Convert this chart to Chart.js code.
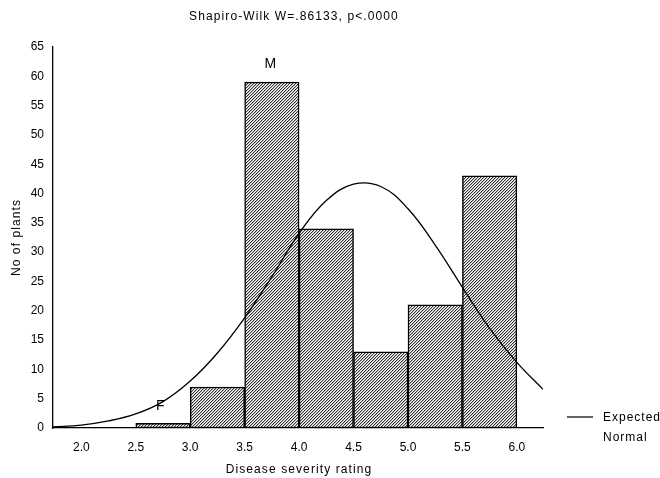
<!DOCTYPE html>
<html>
<head>
<meta charset="utf-8">
<script src="https://cdn.jsdelivr.net/npm/chart.js@4.4.1/dist/chart.umd.min.js"></script>
<style>
  html, body { margin: 0; padding: 0; background: #fff; }
  #wrap { width: 660px; height: 478px; }
</style>
</head>
<body>
<div id="wrap"><canvas id="chart" width="660" height="478"></canvas></div>
<script>
// histogram bins (centres of 0.5-wide classes) and counts
const binCenters = [2.75, 3.25, 3.75, 4.25, 4.75, 5.25, 5.75];
const plantCounts = [0.8, 7, 59, 34, 13, 21, 43];

// expected normal curve
const curveX = [1.74, 2.0, 2.25, 2.5, 2.75, 3.0, 3.25, 3.5, 3.75, 4.0, 4.25, 4.5, 4.75, 5.0, 5.25, 5.5, 5.75, 6.0, 6.24];
const curveY = [0.2, 0.5, 1.2, 2.4, 4.5, 8.0, 12.8, 18.8, 25.8, 33.2, 38.8, 41.6, 41.2, 37.4, 31.2, 24.0, 17.0, 11.2, 6.6];

const xTicks = [2.0, 2.5, 3.0, 3.5, 4.0, 4.5, 5.0, 5.5, 6.0];
const yTicks = [0, 5, 10, 15, 20, 25, 30, 35, 40, 45, 50, 55, 60, 65];

const FONT = '"Liberation Sans", Arial, sans-serif';

function hatch(ctx) {
  const c = document.createElement('canvas');
  c.width = 3; c.height = 3;
  const g = c.getContext('2d');
  g.fillStyle = '#fff';
  g.fillRect(0, 0, 3, 3);
  for (let x = 0; x < 3; x++) {
    for (let y = 0; y < 3; y++) {
      const k = (x + y) % 3;
      if (k === 0) { g.fillStyle = '#333'; g.fillRect(x, y, 1, 1); }
      if (k === 1) { g.fillStyle = '#b8b8b8'; g.fillRect(x, y, 1, 1); }
    }
  }
  return ctx.createPattern(c, 'repeat');
}

const canvas = document.getElementById('chart');
const ctx = canvas.getContext('2d');

// ===== texts drawn on top =====
const textPlugin = {
  id: 'texts',
  afterDraw(chart) {
    const c = chart.ctx;
    const xs = chart.scales.x;
    const ys = chart.scales.y;
    c.save();
    c.fillStyle = '#000';
    c.font = '12px ' + FONT;
    c.letterSpacing = '1.1px';
    c.textBaseline = 'middle';
    c.textAlign = 'center';

    c.fillText('Shapiro-Wilk W=.86133, p<.0000', 294, 17);
    c.fillText('Disease severity rating', 299, 470);

    // class markers
    c.font = '14px ' + FONT;
    c.fillText('M', xs.getPixelForValue(3.74), ys.getPixelForValue(62));
    c.fillText('F', xs.getPixelForValue(2.73), ys.getPixelForValue(3.7));

    // y title
    c.font = '12px ' + FONT;
    c.save();
    c.translate(17, (chart.chartArea.top + chart.chartArea.bottom) / 2);
    c.rotate(-Math.PI / 2);
    c.fillText('No of plants', 0, 0);
    c.restore();

    // legend
    c.strokeStyle = '#000';
    c.lineWidth = 1.2;
    c.beginPath();
    c.moveTo(567, 417);
    c.lineTo(593, 417);
    c.stroke();
    c.textAlign = 'left';
    c.letterSpacing = '1px';
    c.fillText('Expected', 603, 418);
    c.fillText('Normal', 603, 438);
    c.restore();
  }
};

new Chart(canvas, {
  data: {
    datasets: [
      {
        type: 'line',
        label: 'Expected Normal',
        data: curveX.map((x, i) => ({ x: x, y: curveY[i] })),
        borderColor: '#000',
        borderWidth: 1.3,
        pointRadius: 0,
        tension: 0.4,
        fill: false,
        order: 0
      },
      {
        type: 'bar',
        label: 'No of plants',
        data: binCenters.map((x, i) => ({ x: x, y: plantCounts[i] })),
        backgroundColor: hatch(ctx),
        borderColor: '#000',
        borderWidth: 1.5,
        borderSkipped: false,
        barPercentage: 1,
        categoryPercentage: 1,
        order: 1
      }
    ]
  },
  options: {
    responsive: false,
    animation: false,
    layout: {
      padding: { top: 47, right: 117, left: 0, bottom: 0 }
    },
    plugins: {
      legend: { display: false },
      tooltip: { enabled: false }
    },
    scales: {
      x: {
        type: 'linear',
        offset: false,
        min: 1.74,
        max: 6.24,
        afterBuildTicks: s => { s.ticks = xTicks.map(v => ({ value: v })); },
        afterFit: s => { s.height = 50; },
        grid: { display: false, drawTicks: false, offset: false },
        border: { display: true, color: '#000', width: 1.3 },
        ticks: {
          color: '#000',
          padding: 12,
          maxRotation: 0,
          autoSkip: false,
          font: { family: FONT, size: 12 },
          callback: v => Number(v).toFixed(1)
        }
      },
      y: {
        min: 0,
        max: 65,
        afterBuildTicks: s => { s.ticks = yTicks.map(v => ({ value: v })); },
        afterFit: s => { s.width = 53; },
        grid: { display: false, drawTicks: false },
        border: { display: true, color: '#000', width: 1.3 },
        ticks: {
          color: '#000',
          padding: 9,
          autoSkip: false,
          font: { family: FONT, size: 12 }
        }
      }
    }
  },
  plugins: [textPlugin]
});
</script>
</body>
</html>
